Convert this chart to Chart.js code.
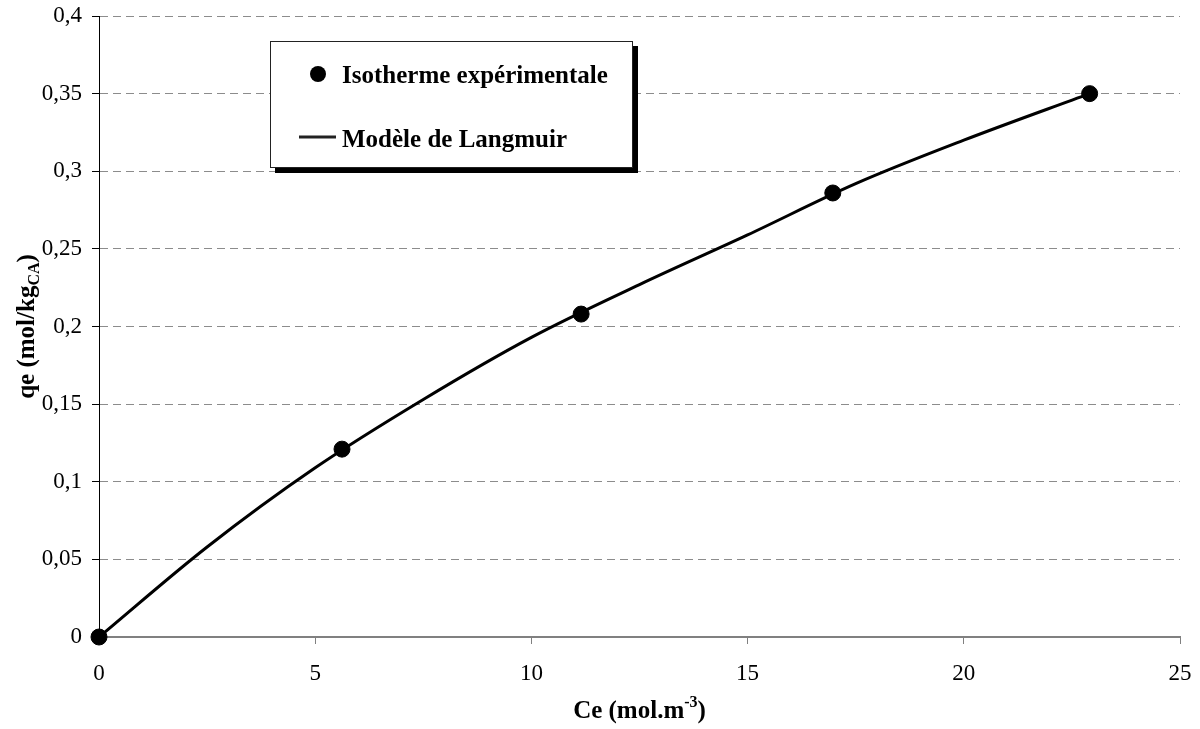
<!DOCTYPE html>
<html>
<head>
<meta charset="utf-8">
<script src="https://cdn.jsdelivr.net/npm/chart.js@4"></script>
<style>
  body { margin: 0; background: #fff; }
  #wrap { width: 1200px; height: 729px; position: relative; }
</style>
</head>
<body>
<div id="wrap"><canvas id="isoChart"></canvas></div>
<script>
const ceExp = [0, 5.62, 11.15, 16.97, 22.91];
const qeExp = [0, 0.121, 0.208, 0.286, 0.350];
// Langmuir curve, points
const ceModel = [0, 2.5, 5, 7.5, 10, 12.5, 15, 17.5, 20, 22.91];
const qeModel = [0, 0.058, 0.109, 0.153, 0.193, 0.227, 0.259, 0.292, 0.320, 0.350];

const xTicks = [0, 5, 10, 15, 20, 25];
const yTicks = [0, 0.05, 0.1, 0.15, 0.2, 0.25, 0.3, 0.35, 0.4];
const yTickLabels = ['0', '0,05', '0,1', '0,15', '0,2', '0,25', '0,3', '0,35', '0,4'];

const legendLabels = ['Isotherme expérimentale', 'Modèle de Langmuir'];

const SERIF = '"Liberation Serif", "Times New Roman", serif';

// draws the boxed legend and the two axis titles (sub/superscripts)
const decorPlugin = {
    id: 'decor',
    afterDraw(chart) {
        const ctx = chart.ctx;
        const area = chart.chartArea;
        ctx.save();

        // legend box with shadow
        ctx.fillStyle = '#000';
        ctx.fillRect(275, 46, 363, 127);
        ctx.fillStyle = '#fff';
        ctx.fillRect(270, 41, 363, 127);
        ctx.strokeStyle = '#222';
        ctx.lineWidth = 1;
        ctx.strokeRect(270.5, 41.5, 362, 126);

        ctx.fillStyle = '#000';
        ctx.beginPath();
        ctx.arc(318, 74, 8, 0, Math.PI * 2);
        ctx.fill();
        ctx.lineWidth = 3;
        ctx.beginPath();
        ctx.moveTo(299, 137);
        ctx.lineTo(336, 137);
        ctx.stroke();

        ctx.font = 'bold 25px ' + SERIF;
        ctx.textBaseline = 'alphabetic';
        ctx.textAlign = 'left';
        ctx.fillText(legendLabels[0], 342, 83);
        ctx.fillText(legendLabels[1], 342, 147);

        // x title: Ce (mol.m-3)
        const big = 'bold 25px ' + SERIF;
        const small = 'bold 16px ' + SERIF;
        ctx.font = big;
        const a = 'Ce (mol.m', c = ')';
        const wa = ctx.measureText(a).width, wc = ctx.measureText(c).width;
        ctx.font = small;
        const b = '-3';
        const wb = ctx.measureText(b).width;
        let x = (area.left + area.right) / 2 - (wa + wb + wc) / 2;
        const by = 718;
        ctx.font = big;
        ctx.fillText(a, x, by);
        ctx.font = small;
        ctx.fillText(b, x + wa, by - 11);
        ctx.font = big;
        ctx.fillText(c, x + wa + wb, by);

        // y title: qe (mol/kgCA)
        ctx.translate(34, (area.top + area.bottom) / 2);
        ctx.rotate(-Math.PI / 2);
        ctx.font = big;
        const ya = 'qe (mol/kg', yc = ')';
        const wya = ctx.measureText(ya).width, wyc = ctx.measureText(yc).width;
        ctx.font = small;
        const yb = 'CA';
        const wyb = ctx.measureText(yb).width;
        x = -(wya + wyb + wyc) / 2;
        ctx.font = big;
        ctx.fillText(ya, x, 0);
        ctx.font = small;
        ctx.fillText(yb, x + wya, 5);
        ctx.font = big;
        ctx.fillText(yc, x + wya + wyb, 0);

        ctx.restore();
    }
};

const ctx = document.getElementById('isoChart').getContext('2d');
const isoChart = new Chart(ctx, {
    type: 'scatter',
    data: {
        datasets: [
            {
                label: legendLabels[0],
                data: ceExp.map((c, i) => ({ x: c, y: qeExp[i] })),
                backgroundColor: '#000',
                borderColor: '#000',
                pointRadius: 8,
                pointHoverRadius: 8,
                showLine: false,
                clip: false,
                order: 0
            },
            {
                label: legendLabels[1],
                data: ceModel.map((c, i) => ({ x: c, y: qeModel[i] })),
                borderColor: '#000',
                borderWidth: 3,
                pointRadius: 0,
                showLine: true,
                cubicInterpolationMode: 'monotone',
                clip: false,
                order: 1
            }
        ]
    },
    options: {
        responsive: true,
        maintainAspectRatio: false,
        animation: false,
        layout: { padding: { top: 16, right: 20, left: 0, bottom: 0 } },
        plugins: { legend: { display: false }, tooltip: { enabled: false } },
        scales: {
            x: {
                type: 'linear',
                min: 0,
                max: 25,
                afterBuildTicks: s => { s.ticks = xTicks.map(v => ({ value: v })); },
                afterFit: s => { s.height = 92; s.paddingLeft = 0; s.paddingRight = 0; },
                ticks: {
                    font: { family: SERIF, size: 23 },
                    color: '#000',
                    padding: 16,
                    maxRotation: 0
                },
                grid: { drawOnChartArea: false, tickLength: 7, tickColor: '#808080', tickWidth: 1 },
                border: { color: '#808080', width: 2 }
            },
            y: {
                type: 'linear',
                min: 0,
                max: 0.4,
                afterBuildTicks: s => { s.ticks = yTicks.map(v => ({ value: v })); },
                afterFit: s => { s.width = 99; s.paddingTop = 0; s.paddingBottom = 0; },
                ticks: {
                    font: { family: SERIF, size: 23 },
                    color: '#000',
                    padding: 10,
                    callback: (v, i) => yTickLabels[i]
                },
                grid: { color: '#8c8c8c', lineWidth: 1, tickLength: 7, tickColor: '#000', tickWidth: 1 },
                border: { color: '#000', width: 1, dash: [8, 5] }
            }
        }
    },
    plugins: [decorPlugin]
});
</script>
</body>
</html>
